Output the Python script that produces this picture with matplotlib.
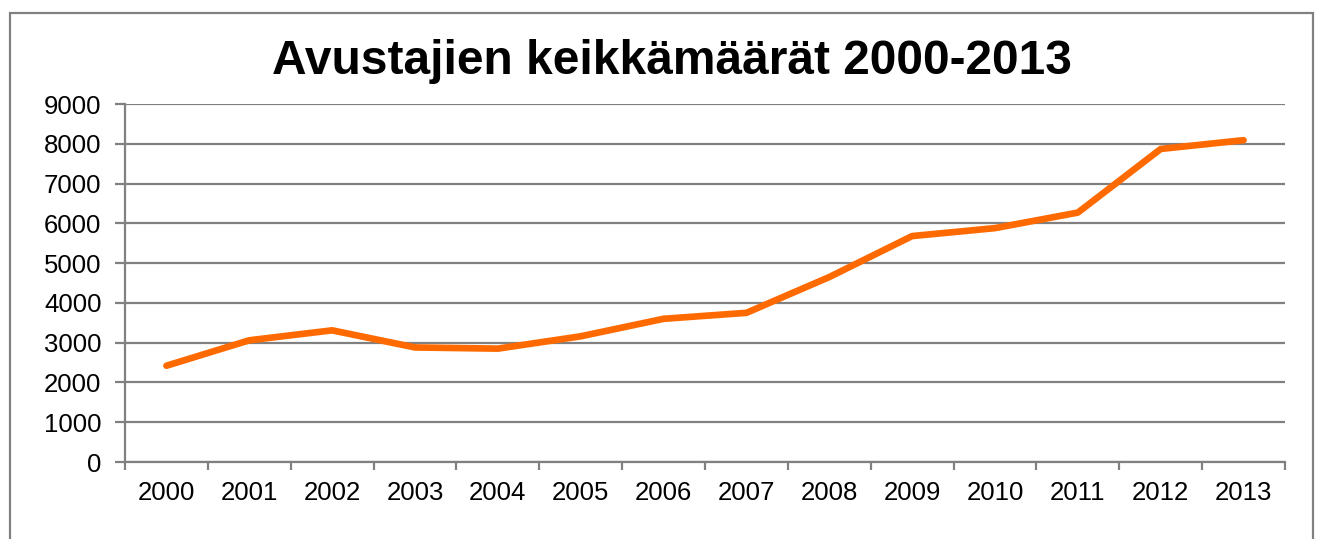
import matplotlib
matplotlib.use("Agg")
import matplotlib.pyplot as plt
import numpy as np
from matplotlib.patches import Rectangle

years = ["2000", "2001", "2002", "2003", "2004", "2005", "2006",
         "2007", "2008", "2009", "2010", "2011", "2012", "2013"]
gigs = [2420, 3060, 3310, 2880, 2850, 3160, 3600,
        3750, 4650, 5680, 5880, 6270, 7870, 8090]
y_ticks = list(range(0, 10000, 1000))

plt.rcParams.update({
    "font.family": ["Liberation Sans", "DejaVu Sans"],
    "font.size": 18,
})

fig = plt.figure(figsize=(13.25, 5.39), dpi=100)
ax = fig.add_axes([125 / 1325, 1 - 462 / 539, 1160 / 1325, 358 / 539])

x = np.arange(len(years))
ax.plot(x, gigs, color="#FF6A00", linewidth=4.8, solid_capstyle="round",
        solid_joinstyle="round", zorder=3)

ax.set_xlim(-0.5, len(years) - 0.5)
ax.set_ylim(0, 9000)
ax.set_yticks(y_ticks)
ax.set_xticks(x)
ax.set_xticklabels(years)
ax.set_xticks(np.arange(-0.5, len(years)), minor=True)

ax.grid(axis="y", color="#808080", linewidth=1.6, zorder=1)
ax.set_axisbelow(True)
for side in ("top", "right"):
    ax.spines[side].set_visible(False)
for side in ("left", "bottom"):
    ax.spines[side].set_color("#808080")
    ax.spines[side].set_linewidth(1.6)

ax.tick_params(axis="y", length=7, width=1.6, color="#808080", pad=10, labelsize=18.5)
ax.tick_params(axis="x", which="major", length=0, pad=14, labelsize=18.5)
ax.tick_params(axis="x", which="minor", length=6, width=1.6, color="#808080")

fig.text(672 / 1325, 1 - 62 / 539, "Avustajien keikkämäärät 2000-2013",
         ha="center", va="center", fontsize=34.5, fontweight="bold")

fig.patches.append(Rectangle((10 / 1325, -0.05), 1303 / 1325, 1.05 - 13 / 539,
                             transform=fig.transFigure, fill=False,
                             edgecolor="#808080", linewidth=1.6))

fig.savefig("out.png", dpi=100)
